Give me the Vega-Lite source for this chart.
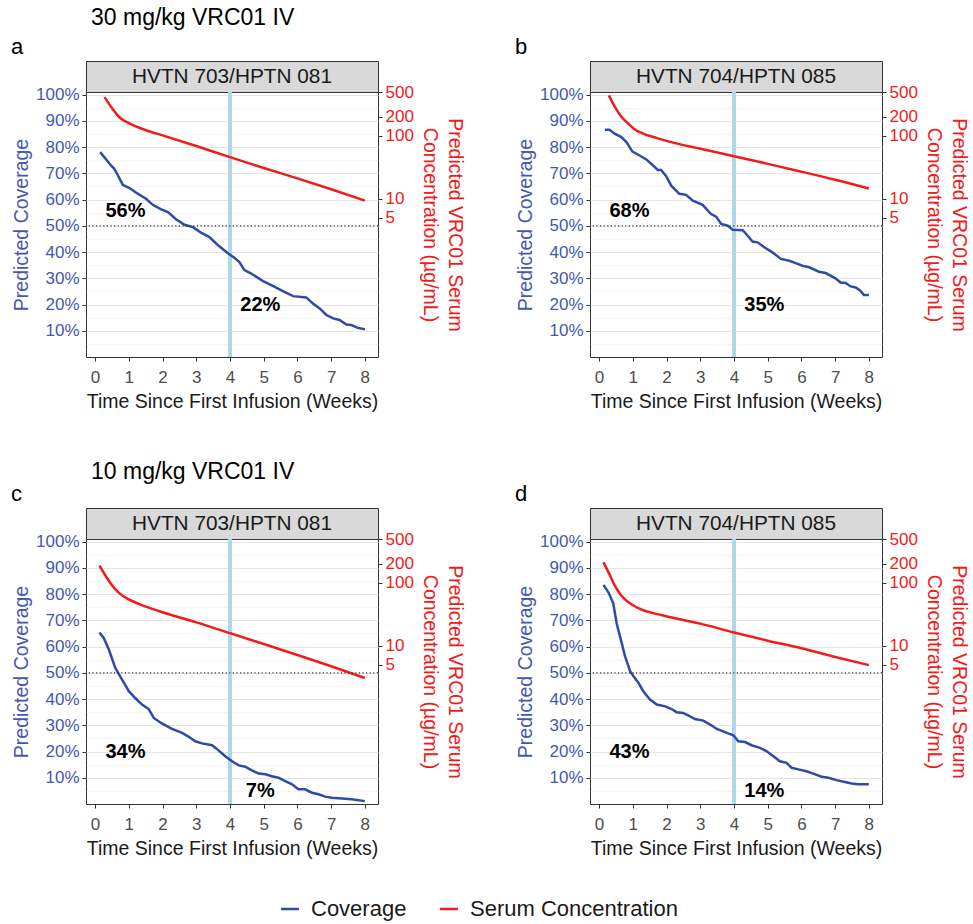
{
  "$schema": "https://vega.github.io/schema/vega-lite/v6.json",
  "padding": {"left": 11, "top": 6, "right": 2, "bottom": 4},
  "background": "white",
  "datasets": {
    "headers": [
      {"p": "a", "h": "HVTN 703/HPTN 081"},
      {"p": "b", "h": "HVTN 704/HPTN 085"},
      {"p": "c", "h": "HVTN 703/HPTN 081"},
      {"p": "d", "h": "HVTN 704/HPTN 085"}
    ],
    "refs": [
      {"p": "a", "w": 4, "v": 50},
      {"p": "b", "w": 4, "v": 50},
      {"p": "c", "w": 4, "v": 50},
      {"p": "d", "w": 4, "v": 50}
    ],
    "labels": [
      {"p": "a", "w": 0.9, "v": 55.5, "t": "56%"},
      {"p": "a", "w": 4.9, "v": 20, "t": "22%"},
      {"p": "b", "w": 0.9, "v": 55.5, "t": "68%"},
      {"p": "b", "w": 4.9, "v": 20, "t": "35%"},
      {"p": "c", "w": 0.9, "v": 20, "t": "34%"},
      {"p": "c", "w": 4.9, "v": 5, "t": "7%"},
      {"p": "d", "w": 0.9, "v": 20, "t": "43%"},
      {"p": "d", "w": 4.9, "v": 5, "t": "14%"}
    ],
    "curves": [
      {"p":"a","s":"Coverage","w":0.15,"v":78.1},{"p":"a","s":"Coverage","w":0.33,"v":75.3},{"p":"a","s":"Coverage","w":0.47,"v":73.0},{"p":"a","s":"Coverage","w":0.57,"v":71.7},{"p":"a","s":"Coverage","w":0.69,"v":68.9},{"p":"a","s":"Coverage","w":0.82,"v":65.6},{"p":"a","s":"Coverage","w":1.02,"v":64.4},{"p":"a","s":"Coverage","w":1.22,"v":62.6},{"p":"a","s":"Coverage","w":1.51,"v":60.3},{"p":"a","s":"Coverage","w":1.71,"v":58.0},{"p":"a","s":"Coverage","w":1.96,"v":56.3},{"p":"a","s":"Coverage","w":2.16,"v":55.2},{"p":"a","s":"Coverage","w":2.40,"v":52.5},{"p":"a","s":"Coverage","w":2.65,"v":50.4},{"p":"a","s":"Coverage","w":2.90,"v":49.5},{"p":"a","s":"Coverage","w":3.14,"v":47.4},{"p":"a","s":"Coverage","w":3.39,"v":45.7},{"p":"a","s":"Coverage","w":3.63,"v":42.8},{"p":"a","s":"Coverage","w":3.89,"v":40.0},{"p":"a","s":"Coverage","w":4.13,"v":37.8},{"p":"a","s":"Coverage","w":4.28,"v":36.2},{"p":"a","s":"Coverage","w":4.43,"v":33.1},{"p":"a","s":"Coverage","w":4.63,"v":31.8},{"p":"a","s":"Coverage","w":4.98,"v":28.9},{"p":"a","s":"Coverage","w":5.27,"v":27.1},{"p":"a","s":"Coverage","w":5.57,"v":25.1},{"p":"a","s":"Coverage","w":5.87,"v":23.2},{"p":"a","s":"Coverage","w":6.26,"v":22.7},{"p":"a","s":"Coverage","w":6.46,"v":20.4},{"p":"a","s":"Coverage","w":6.66,"v":18.5},{"p":"a","s":"Coverage","w":6.86,"v":16.0},{"p":"a","s":"Coverage","w":7.06,"v":14.7},{"p":"a","s":"Coverage","w":7.25,"v":14.1},{"p":"a","s":"Coverage","w":7.45,"v":12.4},{"p":"a","s":"Coverage","w":7.60,"v":12.2},{"p":"a","s":"Coverage","w":7.79,"v":11.1},{"p":"a","s":"Coverage","w":8.0,"v":10.6},
      {"p":"a","s":"Serum Concentration","w":0.28,"v":415},{"p":"a","s":"Serum Concentration","w":0.52,"v":269},{"p":"a","s":"Serum Concentration","w":0.72,"v":198},{"p":"a","s":"Serum Concentration","w":1.02,"v":158},{"p":"a","s":"Serum Concentration","w":1.51,"v":123},{"p":"a","s":"Serum Concentration","w":2.0,"v":102},{"p":"a","s":"Serum Concentration","w":3.0,"v":69},{"p":"a","s":"Serum Concentration","w":4.0,"v":45.8},{"p":"a","s":"Serum Concentration","w":5.0,"v":30.8},{"p":"a","s":"Serum Concentration","w":6.0,"v":21},{"p":"a","s":"Serum Concentration","w":7.0,"v":14.1},{"p":"a","s":"Serum Concentration","w":8.0,"v":9.3},
      {"p":"b","s":"Coverage","w":0.17,"v":86.6},{"p":"b","s":"Coverage","w":0.31,"v":86.6},{"p":"b","s":"Coverage","w":0.46,"v":85.1},{"p":"b","s":"Coverage","w":0.66,"v":83.8},{"p":"b","s":"Coverage","w":0.81,"v":81.9},{"p":"b","s":"Coverage","w":0.99,"v":78.3},{"p":"b","s":"Coverage","w":1.20,"v":76.8},{"p":"b","s":"Coverage","w":1.40,"v":75.3},{"p":"b","s":"Coverage","w":1.60,"v":73.0},{"p":"b","s":"Coverage","w":1.74,"v":71.3},{"p":"b","s":"Coverage","w":1.84,"v":71.3},{"p":"b","s":"Coverage","w":1.99,"v":68.9},{"p":"b","s":"Coverage","w":2.14,"v":65.3},{"p":"b","s":"Coverage","w":2.38,"v":62.2},{"p":"b","s":"Coverage","w":2.58,"v":61.8},{"p":"b","s":"Coverage","w":2.78,"v":59.6},{"p":"b","s":"Coverage","w":3.07,"v":58.0},{"p":"b","s":"Coverage","w":3.32,"v":54.5},{"p":"b","s":"Coverage","w":3.47,"v":53.5},{"p":"b","s":"Coverage","w":3.62,"v":50.7},{"p":"b","s":"Coverage","w":3.81,"v":50.1},{"p":"b","s":"Coverage","w":3.96,"v":48.5},{"p":"b","s":"Coverage","w":4.11,"v":48.4},{"p":"b","s":"Coverage","w":4.26,"v":48.3},{"p":"b","s":"Coverage","w":4.40,"v":46.3},{"p":"b","s":"Coverage","w":4.55,"v":44.0},{"p":"b","s":"Coverage","w":4.70,"v":43.7},{"p":"b","s":"Coverage","w":4.90,"v":41.8},{"p":"b","s":"Coverage","w":5.14,"v":39.9},{"p":"b","s":"Coverage","w":5.39,"v":37.4},{"p":"b","s":"Coverage","w":5.64,"v":36.7},{"p":"b","s":"Coverage","w":5.83,"v":35.8},{"p":"b","s":"Coverage","w":6.03,"v":34.8},{"p":"b","s":"Coverage","w":6.23,"v":34.2},{"p":"b","s":"Coverage","w":6.52,"v":32.5},{"p":"b","s":"Coverage","w":6.72,"v":32.0},{"p":"b","s":"Coverage","w":7.01,"v":30.0},{"p":"b","s":"Coverage","w":7.16,"v":28.4},{"p":"b","s":"Coverage","w":7.31,"v":28.2},{"p":"b","s":"Coverage","w":7.46,"v":26.9},{"p":"b","s":"Coverage","w":7.61,"v":26.5},{"p":"b","s":"Coverage","w":7.75,"v":25.3},{"p":"b","s":"Coverage","w":7.85,"v":23.6},{"p":"b","s":"Coverage","w":8.0,"v":23.6},
      {"p":"b","s":"Serum Concentration","w":0.29,"v":442},{"p":"b","s":"Serum Concentration","w":0.46,"v":294},{"p":"b","s":"Serum Concentration","w":0.66,"v":202},{"p":"b","s":"Serum Concentration","w":0.86,"v":158},{"p":"b","s":"Serum Concentration","w":1.05,"v":128},{"p":"b","s":"Serum Concentration","w":1.30,"v":109},{"p":"b","s":"Serum Concentration","w":1.69,"v":93},{"p":"b","s":"Serum Concentration","w":2.19,"v":78},{"p":"b","s":"Serum Concentration","w":3.0,"v":62.5},{"p":"b","s":"Serum Concentration","w":4.0,"v":47.5},{"p":"b","s":"Serum Concentration","w":5.0,"v":35.8},{"p":"b","s":"Serum Concentration","w":6.0,"v":26.9},{"p":"b","s":"Serum Concentration","w":7.0,"v":20},{"p":"b","s":"Serum Concentration","w":8.0,"v":14.5},
      {"p":"c","s":"Coverage","w":0.13,"v":65.4},{"p":"c","s":"Coverage","w":0.26,"v":63.2},{"p":"c","s":"Coverage","w":0.41,"v":58.8},{"p":"c","s":"Coverage","w":0.60,"v":51.8},{"p":"c","s":"Coverage","w":0.80,"v":47.4},{"p":"c","s":"Coverage","w":1.0,"v":43.0},{"p":"c","s":"Coverage","w":1.19,"v":40.4},{"p":"c","s":"Coverage","w":1.39,"v":37.9},{"p":"c","s":"Coverage","w":1.59,"v":36.2},{"p":"c","s":"Coverage","w":1.74,"v":32.8},{"p":"c","s":"Coverage","w":1.98,"v":30.7},{"p":"c","s":"Coverage","w":2.28,"v":28.6},{"p":"c","s":"Coverage","w":2.58,"v":27.1},{"p":"c","s":"Coverage","w":2.78,"v":25.6},{"p":"c","s":"Coverage","w":2.97,"v":23.9},{"p":"c","s":"Coverage","w":3.17,"v":23.1},{"p":"c","s":"Coverage","w":3.47,"v":22.4},{"p":"c","s":"Coverage","w":3.61,"v":21.0},{"p":"c","s":"Coverage","w":3.86,"v":18.2},{"p":"c","s":"Coverage","w":4.06,"v":16.3},{"p":"c","s":"Coverage","w":4.26,"v":14.7},{"p":"c","s":"Coverage","w":4.45,"v":14.2},{"p":"c","s":"Coverage","w":4.65,"v":12.8},{"p":"c","s":"Coverage","w":4.85,"v":11.6},{"p":"c","s":"Coverage","w":5.05,"v":11.3},{"p":"c","s":"Coverage","w":5.24,"v":10.6},{"p":"c","s":"Coverage","w":5.44,"v":10.0},{"p":"c","s":"Coverage","w":5.64,"v":8.7},{"p":"c","s":"Coverage","w":5.84,"v":7.5},{"p":"c","s":"Coverage","w":6.03,"v":5.6},{"p":"c","s":"Coverage","w":6.23,"v":5.6},{"p":"c","s":"Coverage","w":6.43,"v":4.3},{"p":"c","s":"Coverage","w":6.63,"v":3.7},{"p":"c","s":"Coverage","w":6.82,"v":2.8},{"p":"c","s":"Coverage","w":7.02,"v":2.4},{"p":"c","s":"Coverage","w":7.32,"v":2.1},{"p":"c","s":"Coverage","w":7.61,"v":1.8},{"p":"c","s":"Coverage","w":8.0,"v":1.1},
      {"p":"c","s":"Serum Concentration","w":0.13,"v":188},{"p":"c","s":"Serum Concentration","w":0.31,"v":130},{"p":"c","s":"Serum Concentration","w":0.50,"v":92},{"p":"c","s":"Serum Concentration","w":0.70,"v":70},{"p":"c","s":"Serum Concentration","w":1.0,"v":54.5},{"p":"c","s":"Serum Concentration","w":1.29,"v":46.4},{"p":"c","s":"Serum Concentration","w":1.69,"v":38.6},{"p":"c","s":"Serum Concentration","w":2.0,"v":34},{"p":"c","s":"Serum Concentration","w":3.0,"v":23.5},{"p":"c","s":"Serum Concentration","w":4.0,"v":15.8},{"p":"c","s":"Serum Concentration","w":5.0,"v":10.6},{"p":"c","s":"Serum Concentration","w":6.0,"v":7.1},{"p":"c","s":"Serum Concentration","w":7.0,"v":4.7},{"p":"c","s":"Serum Concentration","w":8.0,"v":3.05},
      {"p":"d","s":"Coverage","w":0.13,"v":83.5},{"p":"d","s":"Coverage","w":0.28,"v":80.6},{"p":"d","s":"Coverage","w":0.42,"v":76.5},{"p":"d","s":"Coverage","w":0.52,"v":68.9},{"p":"d","s":"Coverage","w":0.62,"v":63.9},{"p":"d","s":"Coverage","w":0.77,"v":56.3},{"p":"d","s":"Coverage","w":0.92,"v":50.6},{"p":"d","s":"Coverage","w":1.02,"v":48.7},{"p":"d","s":"Coverage","w":1.17,"v":46.1},{"p":"d","s":"Coverage","w":1.31,"v":43.0},{"p":"d","s":"Coverage","w":1.51,"v":39.8},{"p":"d","s":"Coverage","w":1.71,"v":37.9},{"p":"d","s":"Coverage","w":1.96,"v":37.2},{"p":"d","s":"Coverage","w":2.15,"v":36.2},{"p":"d","s":"Coverage","w":2.30,"v":35.0},{"p":"d","s":"Coverage","w":2.49,"v":34.7},{"p":"d","s":"Coverage","w":2.70,"v":33.4},{"p":"d","s":"Coverage","w":2.84,"v":32.4},{"p":"d","s":"Coverage","w":3.09,"v":31.8},{"p":"d","s":"Coverage","w":3.34,"v":29.9},{"p":"d","s":"Coverage","w":3.49,"v":28.6},{"p":"d","s":"Coverage","w":3.68,"v":27.7},{"p":"d","s":"Coverage","w":3.83,"v":26.9},{"p":"d","s":"Coverage","w":3.98,"v":26.2},{"p":"d","s":"Coverage","w":4.13,"v":23.9},{"p":"d","s":"Coverage","w":4.33,"v":23.6},{"p":"d","s":"Coverage","w":4.52,"v":22.4},{"p":"d","s":"Coverage","w":4.77,"v":21.4},{"p":"d","s":"Coverage","w":4.97,"v":20.1},{"p":"d","s":"Coverage","w":5.17,"v":18.2},{"p":"d","s":"Coverage","w":5.36,"v":16.3},{"p":"d","s":"Coverage","w":5.56,"v":15.7},{"p":"d","s":"Coverage","w":5.71,"v":13.8},{"p":"d","s":"Coverage","w":5.91,"v":13.2},{"p":"d","s":"Coverage","w":6.15,"v":12.5},{"p":"d","s":"Coverage","w":6.35,"v":11.6},{"p":"d","s":"Coverage","w":6.60,"v":10.4},{"p":"d","s":"Coverage","w":6.80,"v":10.0},{"p":"d","s":"Coverage","w":7.04,"v":9.1},{"p":"d","s":"Coverage","w":7.29,"v":8.4},{"p":"d","s":"Coverage","w":7.49,"v":7.8},{"p":"d","s":"Coverage","w":7.68,"v":7.5},{"p":"d","s":"Coverage","w":8.0,"v":7.5},
      {"p":"d","s":"Serum Concentration","w":0.13,"v":213},{"p":"d","s":"Serum Concentration","w":0.28,"v":147},{"p":"d","s":"Serum Concentration","w":0.47,"v":89.5},{"p":"d","s":"Serum Concentration","w":0.67,"v":61.7},{"p":"d","s":"Serum Concentration","w":0.97,"v":45.3},{"p":"d","s":"Serum Concentration","w":1.26,"v":37.6},{"p":"d","s":"Serum Concentration","w":1.66,"v":32.4},{"p":"d","s":"Serum Concentration","w":1.99,"v":29.4},{"p":"d","s":"Serum Concentration","w":3.0,"v":22.4},{"p":"d","s":"Serum Concentration","w":4.0,"v":16.2},{"p":"d","s":"Serum Concentration","w":5.0,"v":12.0},{"p":"d","s":"Serum Concentration","w":6.0,"v":9.1},{"p":"d","s":"Serum Concentration","w":7.0,"v":6.6},{"p":"d","s":"Serum Concentration","w":8.0,"v":4.9}
    ]
  },
  "spacing": 49,
  "vconcat": [
    {
      "title": {"text": "30 mg/kg VRC01 IV", "anchor": "start", "dx": 80, "fontSize": 23, "offset": 6},
      "spacing": 50,
      "hconcat": [
        {
          "title": {"text": "a", "anchor": "start", "fontSize": 22, "offset": 2},
          "spacing": 0,
          "bounds": "flush",
          "vconcat": [
            {"width": 292, "height": 31, "data": {"name": "headers"}, "transform": [{"filter": "datum.p === 'a'"}],
             "mark": {"type": "text", "fontSize": 20.8, "color": "#1a1a1a"}, "encoding": {"text": {"field": "h", "type": "nominal"}},
             "view": {"fill": "#D9D9D9", "stroke": "#333333"}},
            {"width": 292, "height": 265,
             "resolve": {"scale": {"x": "independent", "y": "independent"}},
             "layer": [
               {"data": {"name": "refs"}, "transform": [{"filter": "datum.p === 'a'"}], "mark": {"type": "rule", "color": "#ADD8E6", "strokeWidth": 4}, "encoding": {"x": {"field": "w", "type": "quantitative", "scale": {"domain": [-0.27, 8.39], "nice": false, "zero": false}, "axis": null}}},
               {"data": {"name": "curves"}, "transform": [{"filter": "datum.p === 'a' && datum.s === 'Coverage'"}], "mark": {"type": "line", "strokeWidth": 2.5},
                "encoding": {
                  "x": {"field": "w", "type": "quantitative", "scale": {"domain": [-0.27, 8.39], "nice": false, "zero": false}, "axis": {"orient": "bottom", "title": "Time Since First Infusion (Weeks)", "values": [0,0.5,1,1.5,2,2.5,3,3.5,4,4.5,5,5.5,6,6.5,7,7.5,8], "labelExpr": "datum.value % 1 === 0 ? datum.value + '' : ''", "labelOverlap": false, "labelFlush": false, "labelPadding": 8, "labelColor": "#4D4D4D", "titleColor": "#1A1A1A", "titlePadding": 7, "tickOpacity": {"condition": {"test": "datum.value % 1 !== 0", "value": 0}, "value": 1}, "gridWidth": {"condition": {"test": "datum.value % 1 !== 0", "value": 0.6}, "value": 1.1}, "gridColor": {"condition": {"test": "datum.value % 1 !== 0", "value": "#EFEFEF"}, "value": "#E4E4E4"}}},
                  "y": {"field": "v", "type": "quantitative", "scale": {"domain": [0, 101], "nice": false, "zero": false}, "axis": {"orient": "left", "title": "Predicted Coverage", "values": [5,10,15,20,25,30,35,40,45,50,55,60,65,70,75,80,85,90,95,100], "labelExpr": "datum.value % 10 === 0 ? datum.value + '%' : ''", "labelOverlap": false, "labelColor": "#4458B0", "titleColor": "#4458B0", "tickOpacity": {"condition": {"test": "datum.value % 10 !== 0", "value": 0}, "value": 1}, "gridWidth": {"condition": {"test": "datum.value % 10 !== 0", "value": 0.6}, "value": 1.1}, "gridColor": {"condition": {"test": "datum.value % 10 !== 0", "value": "#EFEFEF"}, "value": "#E4E4E4"}}},
                  "color": {"field": "s", "type": "nominal", "scale": {"domain": ["Coverage", "Serum Concentration"], "range": ["#2E4BA6", "#F21A1A"]}, "legend": {"title": null, "orient": "none", "legendX": 193, "legendY": 837, "direction": "horizontal"}}
                }},
               {"data": {"name": "curves"}, "transform": [{"filter": "datum.p === 'a' && datum.s === 'Serum Concentration'"}], "mark": {"type": "line", "strokeWidth": 2.5, "interpolate": "monotone"},
                "encoding": {
                  "x": {"field": "w", "type": "quantitative", "scale": {"domain": [-0.27, 8.39], "nice": false, "zero": false}, "axis": null},
                  "y": {"field": "v", "type": "quantitative", "scale": {"type": "log", "domain": [0.03, 500], "nice": false}, "axis": {"orient": "right", "title": ["Predicted VRC01 Serum", "Concentration (µg/mL)"], "titlePadding": 6, "values": [5, 10, 100, 200, 500], "labelExpr": "datum.value + ''", "grid": false, "labelOverlap": false, "labelColor": "#F21A1A", "titleColor": "#F21A1A", "titleLineHeight": 25}},
                  "color": {"field": "s", "type": "nominal"}
                }},
               {"data": {"name": "refs"}, "transform": [{"filter": "datum.p === 'a'"}], "mark": {"type": "rule", "color": "#333333", "strokeWidth": 1.2, "strokeDash": [1.2, 2.4]}, "encoding": {"y": {"field": "v", "type": "quantitative", "scale": {"domain": [0, 101], "nice": false, "zero": false}, "axis": null}}},
               {"data": {"name": "labels"}, "transform": [{"filter": "datum.p === 'a'"}], "mark": {"type": "text", "fontSize": 20, "fontWeight": "bold", "color": "#000000"},
                "encoding": {"x": {"field": "w", "type": "quantitative", "scale": {"domain": [-0.27, 8.39], "nice": false, "zero": false}, "axis": null}, "y": {"field": "v", "type": "quantitative", "scale": {"domain": [0, 101], "nice": false, "zero": false}, "axis": null}, "text": {"field": "t", "type": "nominal"}}}
             ]}
          ]
        },
        {
          "title": {"text": "b", "anchor": "start", "fontSize": 22, "offset": 2},
          "spacing": 0,
          "bounds": "flush",
          "vconcat": [
            {"width": 292, "height": 31, "data": {"name": "headers"}, "transform": [{"filter": "datum.p === 'b'"}],
             "mark": {"type": "text", "fontSize": 20.8, "color": "#1a1a1a"}, "encoding": {"text": {"field": "h", "type": "nominal"}},
             "view": {"fill": "#D9D9D9", "stroke": "#333333"}},
            {"width": 292, "height": 265,
             "resolve": {"scale": {"x": "independent", "y": "independent"}},
             "layer": [
               {"data": {"name": "refs"}, "transform": [{"filter": "datum.p === 'b'"}], "mark": {"type": "rule", "color": "#ADD8E6", "strokeWidth": 4}, "encoding": {"x": {"field": "w", "type": "quantitative", "scale": {"domain": [-0.27, 8.39], "nice": false, "zero": false}, "axis": null}}},
               {"data": {"name": "curves"}, "transform": [{"filter": "datum.p === 'b' && datum.s === 'Coverage'"}], "mark": {"type": "line", "strokeWidth": 2.5},
                "encoding": {
                  "x": {"field": "w", "type": "quantitative", "scale": {"domain": [-0.27, 8.39], "nice": false, "zero": false}, "axis": {"orient": "bottom", "title": "Time Since First Infusion (Weeks)", "values": [0,0.5,1,1.5,2,2.5,3,3.5,4,4.5,5,5.5,6,6.5,7,7.5,8], "labelExpr": "datum.value % 1 === 0 ? datum.value + '' : ''", "labelOverlap": false, "labelFlush": false, "labelPadding": 8, "labelColor": "#4D4D4D", "titleColor": "#1A1A1A", "titlePadding": 7, "tickOpacity": {"condition": {"test": "datum.value % 1 !== 0", "value": 0}, "value": 1}, "gridWidth": {"condition": {"test": "datum.value % 1 !== 0", "value": 0.6}, "value": 1.1}, "gridColor": {"condition": {"test": "datum.value % 1 !== 0", "value": "#EFEFEF"}, "value": "#E4E4E4"}}},
                  "y": {"field": "v", "type": "quantitative", "scale": {"domain": [0, 101], "nice": false, "zero": false}, "axis": {"orient": "left", "title": "Predicted Coverage", "values": [5,10,15,20,25,30,35,40,45,50,55,60,65,70,75,80,85,90,95,100], "labelExpr": "datum.value % 10 === 0 ? datum.value + '%' : ''", "labelOverlap": false, "labelColor": "#4458B0", "titleColor": "#4458B0", "tickOpacity": {"condition": {"test": "datum.value % 10 !== 0", "value": 0}, "value": 1}, "gridWidth": {"condition": {"test": "datum.value % 10 !== 0", "value": 0.6}, "value": 1.1}, "gridColor": {"condition": {"test": "datum.value % 10 !== 0", "value": "#EFEFEF"}, "value": "#E4E4E4"}}},
                  "color": {"field": "s", "type": "nominal"}
                }},
               {"data": {"name": "curves"}, "transform": [{"filter": "datum.p === 'b' && datum.s === 'Serum Concentration'"}], "mark": {"type": "line", "strokeWidth": 2.5, "interpolate": "monotone"},
                "encoding": {
                  "x": {"field": "w", "type": "quantitative", "scale": {"domain": [-0.27, 8.39], "nice": false, "zero": false}, "axis": null},
                  "y": {"field": "v", "type": "quantitative", "scale": {"type": "log", "domain": [0.03, 500], "nice": false}, "axis": {"orient": "right", "title": ["Predicted VRC01 Serum", "Concentration (µg/mL)"], "titlePadding": 6, "values": [5, 10, 100, 200, 500], "labelExpr": "datum.value + ''", "grid": false, "labelOverlap": false, "labelColor": "#F21A1A", "titleColor": "#F21A1A", "titleLineHeight": 25}},
                  "color": {"field": "s", "type": "nominal"}
                }},
               {"data": {"name": "refs"}, "transform": [{"filter": "datum.p === 'b'"}], "mark": {"type": "rule", "color": "#333333", "strokeWidth": 1.2, "strokeDash": [1.2, 2.4]}, "encoding": {"y": {"field": "v", "type": "quantitative", "scale": {"domain": [0, 101], "nice": false, "zero": false}, "axis": null}}},
               {"data": {"name": "labels"}, "transform": [{"filter": "datum.p === 'b'"}], "mark": {"type": "text", "fontSize": 20, "fontWeight": "bold", "color": "#000000"},
                "encoding": {"x": {"field": "w", "type": "quantitative", "scale": {"domain": [-0.27, 8.39], "nice": false, "zero": false}, "axis": null}, "y": {"field": "v", "type": "quantitative", "scale": {"domain": [0, 101], "nice": false, "zero": false}, "axis": null}, "text": {"field": "t", "type": "nominal"}}}
             ]}
          ]
        }
      ]
    },
    {
      "title": {"text": "10 mg/kg VRC01 IV", "anchor": "start", "dx": 80, "fontSize": 23, "offset": -1},
      "spacing": 50,
      "hconcat": [
        {
          "title": {"text": "c", "anchor": "start", "fontSize": 22, "offset": 2},
          "spacing": 0,
          "bounds": "flush",
          "vconcat": [
            {"width": 292, "height": 31, "data": {"name": "headers"}, "transform": [{"filter": "datum.p === 'c'"}],
             "mark": {"type": "text", "fontSize": 20.8, "color": "#1a1a1a"}, "encoding": {"text": {"field": "h", "type": "nominal"}},
             "view": {"fill": "#D9D9D9", "stroke": "#333333"}},
            {"width": 292, "height": 265,
             "resolve": {"scale": {"x": "independent", "y": "independent"}},
             "layer": [
               {"data": {"name": "refs"}, "transform": [{"filter": "datum.p === 'c'"}], "mark": {"type": "rule", "color": "#ADD8E6", "strokeWidth": 4}, "encoding": {"x": {"field": "w", "type": "quantitative", "scale": {"domain": [-0.27, 8.39], "nice": false, "zero": false}, "axis": null}}},
               {"data": {"name": "curves"}, "transform": [{"filter": "datum.p === 'c' && datum.s === 'Coverage'"}], "mark": {"type": "line", "strokeWidth": 2.5},
                "encoding": {
                  "x": {"field": "w", "type": "quantitative", "scale": {"domain": [-0.27, 8.39], "nice": false, "zero": false}, "axis": {"orient": "bottom", "title": "Time Since First Infusion (Weeks)", "values": [0,0.5,1,1.5,2,2.5,3,3.5,4,4.5,5,5.5,6,6.5,7,7.5,8], "labelExpr": "datum.value % 1 === 0 ? datum.value + '' : ''", "labelOverlap": false, "labelFlush": false, "labelPadding": 8, "labelColor": "#4D4D4D", "titleColor": "#1A1A1A", "titlePadding": 7, "tickOpacity": {"condition": {"test": "datum.value % 1 !== 0", "value": 0}, "value": 1}, "gridWidth": {"condition": {"test": "datum.value % 1 !== 0", "value": 0.6}, "value": 1.1}, "gridColor": {"condition": {"test": "datum.value % 1 !== 0", "value": "#EFEFEF"}, "value": "#E4E4E4"}}},
                  "y": {"field": "v", "type": "quantitative", "scale": {"domain": [0, 101], "nice": false, "zero": false}, "axis": {"orient": "left", "title": "Predicted Coverage", "values": [5,10,15,20,25,30,35,40,45,50,55,60,65,70,75,80,85,90,95,100], "labelExpr": "datum.value % 10 === 0 ? datum.value + '%' : ''", "labelOverlap": false, "labelColor": "#4458B0", "titleColor": "#4458B0", "tickOpacity": {"condition": {"test": "datum.value % 10 !== 0", "value": 0}, "value": 1}, "gridWidth": {"condition": {"test": "datum.value % 10 !== 0", "value": 0.6}, "value": 1.1}, "gridColor": {"condition": {"test": "datum.value % 10 !== 0", "value": "#EFEFEF"}, "value": "#E4E4E4"}}},
                  "color": {"field": "s", "type": "nominal"}
                }},
               {"data": {"name": "curves"}, "transform": [{"filter": "datum.p === 'c' && datum.s === 'Serum Concentration'"}], "mark": {"type": "line", "strokeWidth": 2.5, "interpolate": "monotone"},
                "encoding": {
                  "x": {"field": "w", "type": "quantitative", "scale": {"domain": [-0.27, 8.39], "nice": false, "zero": false}, "axis": null},
                  "y": {"field": "v", "type": "quantitative", "scale": {"type": "log", "domain": [0.03, 500], "nice": false}, "axis": {"orient": "right", "title": ["Predicted VRC01 Serum", "Concentration (µg/mL)"], "titlePadding": 6, "values": [5, 10, 100, 200, 500], "labelExpr": "datum.value + ''", "grid": false, "labelOverlap": false, "labelColor": "#F21A1A", "titleColor": "#F21A1A", "titleLineHeight": 25}},
                  "color": {"field": "s", "type": "nominal"}
                }},
               {"data": {"name": "refs"}, "transform": [{"filter": "datum.p === 'c'"}], "mark": {"type": "rule", "color": "#333333", "strokeWidth": 1.2, "strokeDash": [1.2, 2.4]}, "encoding": {"y": {"field": "v", "type": "quantitative", "scale": {"domain": [0, 101], "nice": false, "zero": false}, "axis": null}}},
               {"data": {"name": "labels"}, "transform": [{"filter": "datum.p === 'c'"}], "mark": {"type": "text", "fontSize": 20, "fontWeight": "bold", "color": "#000000"},
                "encoding": {"x": {"field": "w", "type": "quantitative", "scale": {"domain": [-0.27, 8.39], "nice": false, "zero": false}, "axis": null}, "y": {"field": "v", "type": "quantitative", "scale": {"domain": [0, 101], "nice": false, "zero": false}, "axis": null}, "text": {"field": "t", "type": "nominal"}}}
             ]}
          ]
        },
        {
          "title": {"text": "d", "anchor": "start", "fontSize": 22, "offset": 2},
          "spacing": 0,
          "bounds": "flush",
          "vconcat": [
            {"width": 292, "height": 31, "data": {"name": "headers"}, "transform": [{"filter": "datum.p === 'd'"}],
             "mark": {"type": "text", "fontSize": 20.8, "color": "#1a1a1a"}, "encoding": {"text": {"field": "h", "type": "nominal"}},
             "view": {"fill": "#D9D9D9", "stroke": "#333333"}},
            {"width": 292, "height": 265,
             "resolve": {"scale": {"x": "independent", "y": "independent"}},
             "layer": [
               {"data": {"name": "refs"}, "transform": [{"filter": "datum.p === 'd'"}], "mark": {"type": "rule", "color": "#ADD8E6", "strokeWidth": 4}, "encoding": {"x": {"field": "w", "type": "quantitative", "scale": {"domain": [-0.27, 8.39], "nice": false, "zero": false}, "axis": null}}},
               {"data": {"name": "curves"}, "transform": [{"filter": "datum.p === 'd' && datum.s === 'Coverage'"}], "mark": {"type": "line", "strokeWidth": 2.5},
                "encoding": {
                  "x": {"field": "w", "type": "quantitative", "scale": {"domain": [-0.27, 8.39], "nice": false, "zero": false}, "axis": {"orient": "bottom", "title": "Time Since First Infusion (Weeks)", "values": [0,0.5,1,1.5,2,2.5,3,3.5,4,4.5,5,5.5,6,6.5,7,7.5,8], "labelExpr": "datum.value % 1 === 0 ? datum.value + '' : ''", "labelOverlap": false, "labelFlush": false, "labelPadding": 8, "labelColor": "#4D4D4D", "titleColor": "#1A1A1A", "titlePadding": 7, "tickOpacity": {"condition": {"test": "datum.value % 1 !== 0", "value": 0}, "value": 1}, "gridWidth": {"condition": {"test": "datum.value % 1 !== 0", "value": 0.6}, "value": 1.1}, "gridColor": {"condition": {"test": "datum.value % 1 !== 0", "value": "#EFEFEF"}, "value": "#E4E4E4"}}},
                  "y": {"field": "v", "type": "quantitative", "scale": {"domain": [0, 101], "nice": false, "zero": false}, "axis": {"orient": "left", "title": "Predicted Coverage", "values": [5,10,15,20,25,30,35,40,45,50,55,60,65,70,75,80,85,90,95,100], "labelExpr": "datum.value % 10 === 0 ? datum.value + '%' : ''", "labelOverlap": false, "labelColor": "#4458B0", "titleColor": "#4458B0", "tickOpacity": {"condition": {"test": "datum.value % 10 !== 0", "value": 0}, "value": 1}, "gridWidth": {"condition": {"test": "datum.value % 10 !== 0", "value": 0.6}, "value": 1.1}, "gridColor": {"condition": {"test": "datum.value % 10 !== 0", "value": "#EFEFEF"}, "value": "#E4E4E4"}}},
                  "color": {"field": "s", "type": "nominal"}
                }},
               {"data": {"name": "curves"}, "transform": [{"filter": "datum.p === 'd' && datum.s === 'Serum Concentration'"}], "mark": {"type": "line", "strokeWidth": 2.5, "interpolate": "monotone"},
                "encoding": {
                  "x": {"field": "w", "type": "quantitative", "scale": {"domain": [-0.27, 8.39], "nice": false, "zero": false}, "axis": null},
                  "y": {"field": "v", "type": "quantitative", "scale": {"type": "log", "domain": [0.03, 500], "nice": false}, "axis": {"orient": "right", "title": ["Predicted VRC01 Serum", "Concentration (µg/mL)"], "titlePadding": 6, "values": [5, 10, 100, 200, 500], "labelExpr": "datum.value + ''", "grid": false, "labelOverlap": false, "labelColor": "#F21A1A", "titleColor": "#F21A1A", "titleLineHeight": 25}},
                  "color": {"field": "s", "type": "nominal"}
                }},
               {"data": {"name": "refs"}, "transform": [{"filter": "datum.p === 'd'"}], "mark": {"type": "rule", "color": "#333333", "strokeWidth": 1.2, "strokeDash": [1.2, 2.4]}, "encoding": {"y": {"field": "v", "type": "quantitative", "scale": {"domain": [0, 101], "nice": false, "zero": false}, "axis": null}}},
               {"data": {"name": "labels"}, "transform": [{"filter": "datum.p === 'd'"}], "mark": {"type": "text", "fontSize": 20, "fontWeight": "bold", "color": "#000000"},
                "encoding": {"x": {"field": "w", "type": "quantitative", "scale": {"domain": [-0.27, 8.39], "nice": false, "zero": false}, "axis": null}, "y": {"field": "v", "type": "quantitative", "scale": {"domain": [0, 101], "nice": false, "zero": false}, "axis": null}, "text": {"field": "t", "type": "nominal"}}}
             ]}
          ]
        }
      ]
    }
  ],
  "config": {
    "font": "Liberation Sans",
    "view": {"stroke": "#333333", "strokeWidth": 1},
    "axis": {"domain": false, "tickColor": "#333333", "tickSize": 4, "labelFontSize": 17, "titleFontSize": 19.5, "titleFontWeight": "normal", "labelPadding": 3, "titlePadding": 4},
    "title": {"fontWeight": "normal", "color": "#000000"},
    "legend": {"labelFontSize": 22, "labelColor": "#1A1A1A", "labelLimit": 0, "symbolType": "stroke", "symbolStrokeWidth": 2.5, "symbolSize": 320, "columnPadding": 28, "labelOffset": 10}
  }
}
